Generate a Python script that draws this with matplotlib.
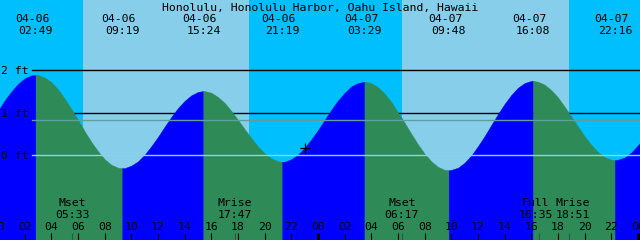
import matplotlib
matplotlib.use("Agg")
import matplotlib.pyplot as plt
import matplotlib.transforms as mtransforms
import numpy as np

# ---------------- data ----------------
title = "Honolulu, Honolulu Harbor, Oahu Island, Hawaii"

# tide extrema (labels at top)
tide_dates = ["04-06", "04-06", "04-06", "04-06", "04-07", "04-07", "04-07", "04-07"]
tide_times = ["02:49", "09:19", "15:24", "21:19", "03:29", "09:48", "16:08", "22:16"]
tide_types = ["H", "L", "H", "L", "H", "L", "H", "L"]
tide_heights = [1.89, -0.31, 1.51, -0.16, 1.73, -0.36, 1.75, -0.12]

# half-hourly water level (ft), hours since 04-06 00:00
level_hours = [i * 0.5 for i in range(99)]
level_heights = [
    1.04, 1.29, 1.50, 1.68, 1.81, 1.88, 1.89, 1.83, 1.72, 1.55,
    1.33, 1.09, 0.83, 0.56, 0.31, 0.09, -0.10, -0.23, -0.30, -0.31,
    -0.25, -0.15, 0.01, 0.21, 0.43, 0.67, 0.90, 1.11, 1.28, 1.41,
    1.49, 1.51, 1.47, 1.37, 1.23, 1.04, 0.83, 0.61, 0.40, 0.20,
    0.04, -0.08, -0.15, -0.16, -0.10, 0.01, 0.17, 0.37, 0.59, 0.83,
    1.07, 1.29, 1.47, 1.62, 1.70, 1.73, 1.70, 1.60, 1.45, 1.25,
    1.01, 0.76, 0.50, 0.25, 0.03, -0.15, -0.28, -0.35, -0.35, -0.30,
    -0.18, -0.01, 0.21, 0.45, 0.71, 0.97, 1.21, 1.42, 1.59, 1.70,
    1.75, 1.73, 1.66, 1.53, 1.36, 1.14, 0.91, 0.67, 0.44, 0.24,
    0.07, -0.05, -0.11, -0.11, -0.06, 0.06, 0.23, 0.43, 0.66]

# sun
sunrise = [("04-06", "06:22"), ("04-07", "06:19")]
sunset = [("04-06", "18:50"), ("04-07", "18:50")]

# moon events (labels at bottom)
moon_names = ["Mset", "Mrise", "Mset", "Full", "Mrise"]
moon_dates = ["04-06", "04-06", "04-07", "04-07", "04-07"]
moon_times = ["05:33", "17:47", "06:17", "16:35", "18:51"]

# current time marker
now_date, now_time, now_height = "04-06", "23:02", 0.17

depth_lines = [1, 2]
depth_labels = ["0 ft", "1 ft", "2 ft"]
msl_level = 0.82
hour_ticks = list(range(0, 49, 2))

# ---------------- helpers ----------------
def to_hours(date, hm):
    day = int(date.split("-")[1]) - 6
    h, m = hm.split(":")
    return day * 24 + int(h) + int(m) / 60.0

# ---------------- layout ----------------
W, H = 640, 240
x0, x1 = 0.15, 48.15
y_zero_px, px_per_ft = 155.0, 42.35
y_top = y_zero_px / px_per_ft
y_bot = (y_zero_px - H) / px_per_ft

NIGHT = "#00BFFF"
DAY = "#87CEEB"
RISE = "#0000FF"
FALL = "#2E8B57"

fig = plt.figure(figsize=(W / 100, H / 100), dpi=100)
ax = fig.add_axes([0, 0, 1, 1])
ax.set_xlim(x0, x1)
ax.set_ylim(y_bot, y_top)
ax.set_axis_off()
ax.add_patch(plt.Rectangle((0, 0), 1, 1, transform=ax.transAxes, color=NIGHT, zorder=0))

for (d1, t1), (d2, t2) in zip(sunrise, sunset):
    ax.axvspan(to_hours(d1, t1), to_hours(d2, t2), color=DAY, lw=0, zorder=0.5)

FONT = dict(family="DejaVu Sans Mono", size=8.25, color="black")

# depth lines under water
for lvl in depth_lines:
    ax.axhline(lvl, xmin=32 / W, xmax=1, color="black", lw=1.0, zorder=1)

# water
ext_hours = [to_hours(d, t) for d, t in zip(tide_dates, tide_times)]
T = np.array(level_hours + ext_hours, dtype=float)
Hh = np.array(level_heights + tide_heights, dtype=float)
order = np.argsort(T)
T, Hh = T[order], Hh[order]

bounds = [T[0]] + ext_hours + [T[-1]]
for k in range(len(bounds) - 1):
    lo, hi = bounds[k], bounds[k + 1]
    if k < len(tide_types):
        col = RISE if tide_types[k] == "H" else FALL
    else:
        col = RISE if tide_types[-1] == "L" else FALL
    m = (T >= lo - 1e-9) & (T <= hi + 1e-9)
    ax.fill_between(T[m], Hh[m], y_bot, color=col, lw=0.3, edgecolor=col, zorder=2)

# datum and msl lines over water
ax.axhline(0, xmin=32 / W, xmax=1, color="#8FD0EC", lw=1.0, zorder=3)
ax.axhline(msl_level, xmin=32 / W, xmax=1, color="#5F9EA0", lw=1.0, zorder=3)

# depth labels
for i, lab in enumerate(depth_labels):
    ax.text(1 / W, i, lab, transform=mtransforms.blended_transform_factory(ax.transAxes, ax.transData),
            ha="left", va="center_baseline", zorder=5, **FONT)

# title
ax.text(0.5, 1 - 6.5 / H, title, transform=ax.transAxes, ha="center", va="center_baseline", zorder=5, **FONT)

# tide labels
bt = mtransforms.blended_transform_factory(ax.transData, ax.transAxes)
bt_date = mtransforms.offset_copy(bt, fig=fig, x=-3.5, y=0, units="dots")
for d, t, hr in zip(tide_dates, tide_times, ext_hours):
    ax.text(hr, 1 - 18 / H, d, transform=bt_date, ha="center", va="center_baseline", zorder=5, **FONT)
    ax.text(hr, 1 - 30 / H, t, transform=bt, ha="center", va="center_baseline", zorder=5, **FONT)

# moon labels
moon_shift = [0, 0, 0, -3.2, 3.6]
for n, d, t, dx in zip(moon_names, moon_dates, moon_times, moon_shift):
    hr = to_hours(d, t)
    tr = mtransforms.offset_copy(bt, fig=fig, x=dx, y=0, units="dots")
    ax.text(hr, (H - 202.5) / H, n, transform=tr, ha="center", va="center_baseline", zorder=5, **FONT)
    ax.text(hr, (H - 214) / H, t, transform=tr, ha="center", va="center_baseline", zorder=5, **FONT)
    ax.plot([hr, hr], [0, 7.5 / H], transform=bt, color="#2A5A40", lw=0.8, zorder=4, solid_capstyle="butt")

# hour ticks
for h in hour_ticks:
    ax.text(h, (H - 226.5) / H, f"{h % 24:02d}", transform=bt, ha="center", va="center_baseline",
            zorder=5, clip_on=False, **FONT)
    lw = 2.2 if h % 24 == 0 else 0.8
    ax.plot([h, h], [0, 7.5 / H], transform=bt, color="black", lw=lw, zorder=4, solid_capstyle="butt")

# now marker
ax.plot(to_hours(now_date, now_time), now_height, marker="+", ms=6.5, mew=0.9, color="black", zorder=6)

fig.savefig("out.png", dpi=100)
